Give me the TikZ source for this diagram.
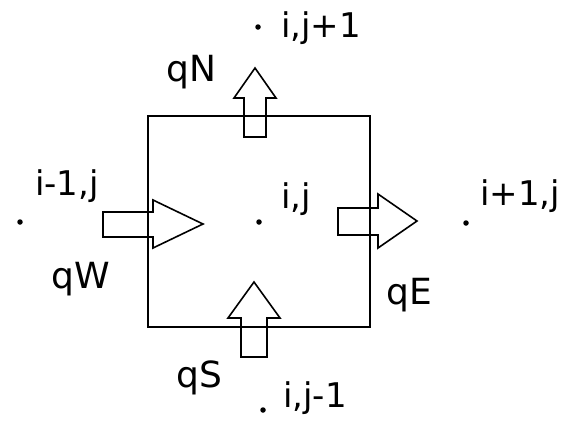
\documentclass[tikz,border=0pt]{standalone}
\usepackage{fontspec}
\setmainfont{DejaVu Sans}
\usetikzlibrary{positioning}

\begin{document}
\begin{tikzpicture}[
  x=1pt, y=-1pt,
  font=\fontsize{34}{40}\selectfont,
  cell/.style={draw, line width=1.8pt},
  flux/.style={draw, line width=1.6pt, line join=miter},
  gridpt/.style={circle, fill, inner sep=0pt, minimum size=5.5pt},
  lbl/.style={inner sep=0pt, anchor=base west},
  fluxlbl/.style={lbl, font=\fontsize{36}{40}\selectfont}
]
  \useasboundingbox (0,0) rectangle (562,426);

  % control volume
  \draw[cell] (148,116) rectangle (370,327);

  % grid points
  \node[gridpt] (P) at (259,222) {};
  \node[gridpt] (W) at (20,222) {};
  \node[gridpt] (E) at (466,223) {};
  \node[gridpt] (N) at (258,27) {};
  \node[gridpt] (S) at (263,410) {};

  \node[lbl] (P-lbl) at (281,208) {i,j};
  \node[lbl] (W-lbl) at (35,195) {i-1,j};
  \node[lbl] (E-lbl) at (480,205) {i+1,j};
  \node[lbl] (N-lbl) at (281,37) {i,j+1};
  \node[lbl] (S-lbl) at (283,407) {i,j-1};

  % fluxes through the faces
  \draw[flux] (103,212) -- (153,212) -- (153,200) -- (203,224)
    -- (153,248) -- (153,237) -- (103,237) -- cycle;
  \draw[flux] (338,208) -- (378,208) -- (378,194) -- (417,221)
    -- (378,248) -- (378,235) -- (338,235) -- cycle;
  \draw[flux] (244,137) -- (244,98) -- (234,98) -- (255,68)
    -- (276,98) -- (266,98) -- (266,137) -- cycle;
  \draw[flux] (241,357) -- (241,318) -- (228,318) -- (254,282)
    -- (280,318) -- (267,318) -- (267,357) -- cycle;

  \node[fluxlbl] (qN) at (166,81) {qN};
  \node[fluxlbl] (qW) at (51,288) {qW};
  \node[fluxlbl] (qE) at (386,304) {qE};
  \node[fluxlbl] (qS) at (176,387) {qS};

\end{tikzpicture}
\end{document}
